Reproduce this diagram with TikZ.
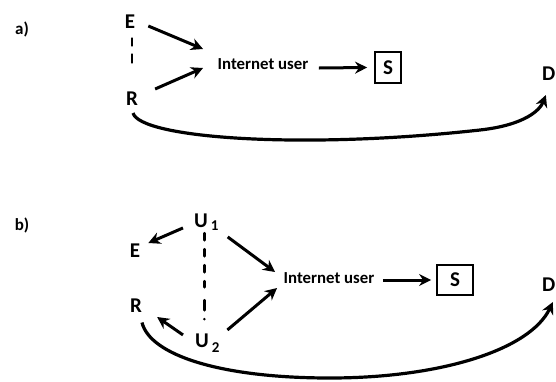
\documentclass[tikz,border=0pt]{standalone}
\usepackage{fontspec}
\setmainfont{Carlito}
\usetikzlibrary{arrows.meta}
\begin{document}
\begin{tikzpicture}[x=1pt,y=-1pt,
  lbl/.style={inner sep=0pt, font=\fontsize{21}{21}\selectfont\bfseries},
  iu/.style={inner sep=0pt, font=\fontsize{16.8}{17}\selectfont\bfseries},
  sbox/.style={draw, line width=1.8pt, inner sep=0pt, font=\fontsize{21}{21}\selectfont\bfseries},
  tag/.style={inner sep=0pt, font=\fontsize{17}{17}\selectfont\bfseries},
  arr/.style={line width=3pt, -{Stealth[length=12pt,width=12pt]}},
  crv/.style={line width=3.2pt, -{Stealth[length=12pt,width=12pt]}},
  dsh/.style={line width=2.8pt, line cap=round}]
\useasboundingbox (0,0) rectangle (556,381);

% ---------- a) ----------
\node[tag] (ta) at (22,29) {a)};
\node[lbl] (Ea) at (130,21.5) {E};
\node[lbl] (Ra) at (132,98.5) {R};
\node[iu] (IUa) at (263,64) {Internet user};
\node[sbox, minimum width=26pt, minimum height=31pt] (Sa) at (388,67.5) {S};
\node[lbl, anchor=east] (Da) at (555.5,74) {D};
\coordinate (ma) at (480,130);

\draw[arr] ([shift={(13,4.5)}]Ea.east) -- ([shift={(-14.5,-15)}]IUa.west);
\draw[arr] ([shift={(17,-9.5)}]Ra.east) -- ([shift={(-14.5,4)}]IUa.west);
\draw[arr] ([shift={(10.5,4)}]IUa.east) -- ([shift={(-7,0)}]Sa.west);
\draw[dsh, dash pattern=on 7pt off 9pt on 8pt off 13pt on 0pt off 40pt]
  ([shift={(2,10)}]Ea.south) -- ([shift={(0,-16)}]Ra.north);
\draw[crv] ([shift={(1,7.5)}]Ra.south) .. controls (140,138) and (300,150) .. (ma)
  .. controls (525,125) and (540,110) .. ([shift={(4,21)}]Da.west);

% ---------- b) ----------
\node[tag] (tb) at (22,225) {b)};
\node[lbl] (Eb) at (135,250.5) {E};
\node[lbl] (Rb) at (136,305.5) {R};
\node[lbl, anchor=base west] (U1) at (194,227) {U\hspace{3pt}\raisebox{-3.5pt}{\fontsize{15}{15}\selectfont 1}};
\node[lbl, anchor=base west] (U2) at (195,347) {U\hspace{3pt}\raisebox{-5pt}{\fontsize{15}{15}\selectfont 2}};
\node[iu] (IUb) at (329,278) {Internet user};
\node[sbox, minimum width=36pt, minimum height=30pt] (Sb) at (455,280) {S};
\node[lbl, anchor=east] (Db) at (555.5,285) {D};
\coordinate (mb) at (330,378);

\draw[arr] ([shift={(-11,6)}]U1.west) -- ([shift={(8,-7.5)}]Eb.east);
\draw[arr] ([shift={(9,15)}]U1.east) -- ([shift={(-8.5,-6)}]IUb.west);
\draw[arr] ([shift={(7.7,-12.75)}]U2.east) -- ([shift={(-6.5,10)}]IUb.west);
\draw[arr] ([shift={(-12,-7.75)}]U2.west) -- ([shift={(15,11.5)}]Rb.east);
\draw[arr] ([shift={(8.5,2)}]IUb.east) -- ([shift={(-5,0)}]Sb.west);
\draw[dsh, dash pattern=on 7pt off 9pt on 7pt off 9pt on 7pt off 9pt on 6pt off 13pt on 10pt off 9pt on 0pt off 50pt]
  ([shift={(-2,2.5)}]U1.south) -- ([shift={(-3,-11)}]U2.north);
\draw[crv] ([shift={(6,10)}]Rb.south) .. controls (150,355) and (220,378) .. (mb)
  .. controls (440,378) and (530,350) .. ([shift={(11,17)}]Db.west);
\end{tikzpicture}
\end{document}
